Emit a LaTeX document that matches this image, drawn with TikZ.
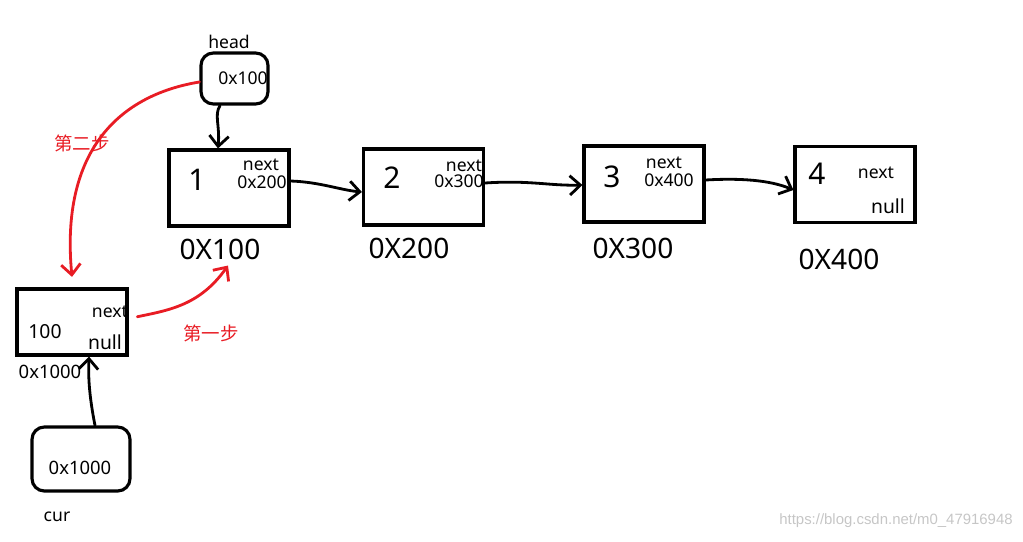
\documentclass[tikz,border=0pt]{standalone}
\usepackage{fontspec}
\setmainfont{Noto Sans}
\newfontfamily\cjk{Noto Sans CJK SC}
\newfontfamily\wmfont{Liberation Sans}
\usetikzlibrary{arrows.meta}

\definecolor{inkred}{RGB}{232,28,36}

\begin{document}
\begin{tikzpicture}[x=0.02cm, y=-0.02cm,
  box/.style={draw, line width=1.8pt, minimum width=2.4cm, minimum height=1.52cm, inner sep=0pt},
  ptr/.style={draw, line width=1.8pt, rounded corners=7pt, inner sep=0pt},
  val/.style={font=\fontsize{17}{17}\selectfont},
  fld/.style={font=\fontsize{10}{10}\selectfont, inner sep=0pt},
  addr/.style={font=\fontsize{16}{16}\selectfont},
  arrow/.style={-{Straight Barb[length=6pt, width=11pt]}, line width=1.6pt, line cap=round},
  redarrow/.style={arrow, inkred},
  steplbl/.style={text=inkred, font=\cjk\fontsize{10.5}{10.5}\selectfont}
]
\useasboundingbox (0,0) rectangle (1023,541);

% Pointer boxes
\node[ptr, minimum width=1.34cm, minimum height=1.02cm] (hd) at (234.5,78.5) {};
\node[fld] (hdv) at (243,78) {0x100};
\node[fld] (hdl) at (229,42) {head};

\node[ptr, minimum width=1.96cm, minimum height=1.28cm] (cur) at (81,459) {};
\node[fld, font=\fontsize{10.5}{10.5}\selectfont] (curv) at (80,468) {0x1000};
\node[fld] (curl) at (57,517) {cur};

% List nodes
\node[box] (n1) at (229,188) {};
\node[val] (n1v) at (197,180) {1};
\node[fld] (n1a) at (261,165) {next};
\node[fld] (n1b) at (262,182) {0x200};
\node[addr] (a1) at (220,249) {0X100};

\node[box] (n2) at (423.5,187) {};
\node[val] (n2v) at (392,178) {2};
\node[fld] (n2a) at (464,166) {next};
\node[fld] (n2b) at (459,181) {0x300};
\node[addr] (a2) at (409,248) {0X200};

\node[box] (n3) at (644,184) {};
\node[val] (n3v) at (612,177) {3};
\node[fld] (n3a) at (664,163) {next};
\node[fld] (n3b) at (669,180) {0x400};
\node[addr] (a3) at (633,248) {0X300};

\node[box] (n4) at (855,184.5) {};
\node[val] (n4v) at (817,174) {4};
\node[fld] (n4a) at (876,173) {next};
\node[fld, font=\fontsize{11}{11}\selectfont] (n4b) at (888,206) {null};
\node[addr] (a4) at (839,259) {0X400};

% New node
\node[box, minimum width=2.2cm, minimum height=1.32cm] (nn) at (72,322) {};
\node[fld, font=\fontsize{11}{11}\selectfont] (nnv) at (45,332) {100};
\node[fld] (nna) at (110,312) {next};
\node[fld, font=\fontsize{11}{11}\selectfont] (nnb) at (105,342) {null};
\node[fld, font=\fontsize{10.5}{10.5}\selectfont] (nnl) at (50,372) {0x1000};

% Links
\draw[arrow] (hd.south -| 220,0) .. controls (214,115) and (220,125) .. (n1.north -| 218,0);
\draw[arrow] (n1.east |- 0,181) .. controls (320,182) and (340,190) .. (n2.west |- 0,192);
\draw[arrow] (n2.east |- 0,183) .. controls (530,180) and (550,186) .. (n3.west |- 0,185);
\draw[arrow] (n3.east |- 0,180) .. controls (740,178) and (770,180) .. (n4.west |- 0,190);
\draw[arrow] (cur.north -| 95,0) .. controls (90,400) and (88,380) .. (nn.south -| 89,0);

% Steps
\draw[redarrow] ([xshift=5pt,yshift=3pt]nn.east) .. controls (170,310) and (200,305) .. (a1.south -| 228,0);
\node[steplbl] (s1) at (211,333) {第一步};
\draw[redarrow] (hd.west |- 0,82) .. controls (120,95) and (60,150) .. ([yshift=6pt]nn.north -| 72,0);
\node[steplbl] (s2) at (82,143) {第二步};

% Watermark
\node[font=\wmfont\fontsize{8.5}{8.5}\selectfont, text=gray!45, anchor=east, inner sep=0pt] (wm) at (1013,521) {https://blog.csdn.net/m0\_47916948};
\end{tikzpicture}
\end{document}
